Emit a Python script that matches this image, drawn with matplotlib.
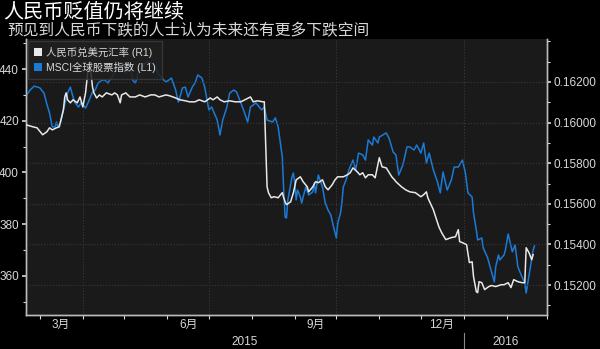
import matplotlib
matplotlib.use("Agg")
from matplotlib import pyplot as plt
import matplotlib.dates as mdates
from matplotlib.patches import Patch
import numpy as np
import pandas as pd

plt.rcParams['font.family'] = ['Liberation Sans', 'Noto Sans CJK SC', 'DejaVu Sans']

title = '人民币贬值仍将继续'
subtitle = '预见到人民币下跌的人士认为未来还有更多下跌空间'
label_cny = '人民币兑美元汇率 (R1)'
label_msci = 'MSCI全球股票指数 (L1)'

# MSCI all-country index (left axis)
msci_dates = [
    '2015-02-19', '2015-02-22', '2015-02-25', '2015-03-01', '2015-03-04', '2015-03-06', '2015-03-08',
    '2015-03-10', '2015-03-12', '2015-03-13', '2015-03-14', '2015-03-16', '2015-03-18', '2015-03-21',
    '2015-03-23', '2015-03-24', '2015-03-26', '2015-03-29', '2015-03-31', '2015-04-03', '2015-04-05',
    '2015-04-08', '2015-04-10', '2015-04-12', '2015-04-15', '2015-04-17', '2015-04-19', '2015-04-22',
    '2015-04-24', '2015-04-26', '2015-04-29', '2015-05-02', '2015-05-03', '2015-05-05', '2015-05-07',
    '2015-05-09', '2015-05-11', '2015-05-14', '2015-05-16', '2015-05-18', '2015-05-20', '2015-05-23',
    '2015-05-25', '2015-05-28', '2015-05-31', '2015-06-02', '2015-06-04', '2015-06-07', '2015-06-09',
    '2015-06-12', '2015-06-14', '2015-06-16', '2015-06-19', '2015-06-21', '2015-06-23', '2015-06-26',
    '2015-06-28', '2015-07-01', '2015-07-03', '2015-07-07', '2015-07-09', '2015-07-11', '2015-07-14',
    '2015-07-16', '2015-07-19', '2015-07-21', '2015-07-24', '2015-07-26', '2015-07-29', '2015-07-31',
    '2015-08-02', '2015-08-04', '2015-08-08', '2015-08-10', '2015-08-12', '2015-08-16', '2015-08-18',
    '2015-08-20', '2015-08-23', '2015-08-24', '2015-08-25', '2015-08-26', '2015-08-27', '2015-08-30',
    '2015-08-31', '2015-09-01', '2015-09-02', '2015-09-03', '2015-09-05', '2015-09-06', '2015-09-07',
    '2015-09-09', '2015-09-11', '2015-09-14', '2015-09-15', '2015-09-16', '2015-09-18', '2015-09-21',
    '2015-09-23', '2015-09-25', '2015-09-27', '2015-09-29', '2015-10-01', '2015-10-02', '2015-10-04',
    '2015-10-05', '2015-10-06', '2015-10-08', '2015-10-10', '2015-10-13', '2015-10-15', '2015-10-17',
    '2015-10-20', '2015-10-22', '2015-10-24', '2015-10-27', '2015-10-28', '2015-10-31', '2015-11-01',
    '2015-11-06', '2015-11-08', '2015-11-11', '2015-11-13', '2015-11-15', '2015-11-18', '2015-11-21',
    '2015-11-23', '2015-11-26', '2015-11-28', '2015-12-01', '2015-12-03', '2015-12-05', '2015-12-07',
    '2015-12-10', '2015-12-13', '2015-12-15', '2015-12-17', '2015-12-20', '2015-12-23', '2015-12-25',
    '2015-12-28', '2015-12-31', '2016-01-02', '2016-01-04', '2016-01-07', '2016-01-08', '2016-01-10',
    '2016-01-11', '2016-01-14', '2016-01-15', '2016-01-18', '2016-01-20', '2016-01-23', '2016-01-24',
    '2016-01-26', '2016-01-27', '2016-01-30', '2016-01-31', '2016-02-02', '2016-02-03', '2016-02-05',
    '2016-02-07', '2016-02-09', '2016-02-12', '2016-02-14', '2016-02-15', '2016-02-18', '2016-02-20',
    '2016-02-21',
]
msci_vals = [
    429.6, 431.9, 433.4, 432.7, 430.7, 426.5, 423.0,
    417.6, 417.6, 419.5, 417.6, 419.5, 424.2, 430.7,
    433.0, 431.1, 427.2, 425.3, 427.2, 424.9, 427.2,
    431.1, 431.9, 434.6, 435.7, 435.7, 434.6, 436.9,
    438.5, 440.4, 440.8, 438.5, 441.5, 442.3, 435.7,
    434.6, 438.5, 440.8, 442.3, 442.7, 442.3, 441.5,
    438.5, 436.5, 435.0, 435.7, 436.5, 431.9, 427.2,
    432.7, 433.0, 429.2, 433.0, 434.6, 437.7, 436.5,
    433.0, 424.2, 425.3, 420.3, 414.5, 420.3, 425.3,
    430.7, 431.9, 431.1, 426.9, 424.2, 419.5, 425.3,
    426.1, 426.9, 424.2, 425.3, 420.3, 419.5, 421.1,
    417.6, 406.0, 393.2, 382.8, 382.4, 389.4, 398.3,
    399.8, 395.9, 389.4, 393.2, 390.5, 388.2, 390.5,
    394.4, 391.3, 392.5, 395.9, 392.1, 399.0, 394.4,
    388.2, 385.5, 383.6, 378.9, 374.7, 380.5, 384.3,
    388.2, 394.4, 397.1, 401.0, 404.8, 401.0, 407.5,
    406.8, 404.8, 412.6, 410.6, 413.7, 411.4, 413.7,
    415.3, 413.3, 407.9, 406.8, 399.0, 402.9, 409.9,
    409.9, 408.7, 410.6, 407.5, 411.4, 403.7, 407.5,
    401.0, 396.3, 392.1, 400.2, 393.2, 397.1, 402.1,
    402.1, 404.8, 400.2, 392.1, 390.5, 384.3, 377.8,
    373.9, 374.7, 370.8, 367.3, 363.5, 357.7, 363.5,
    368.1, 366.2, 368.1, 370.0, 376.2, 373.9, 369.3,
    372.0, 363.5, 359.6, 357.3, 353.4, 363.5, 370.0,
    371.6,
]

# USD per CNY (right axis)
cny_dates = [
    '2015-02-19', '2015-02-24', '2015-02-27', '2015-03-03', '2015-03-06', '2015-03-08', '2015-03-10',
    '2015-03-13', '2015-03-15', '2015-03-18', '2015-03-19', '2015-03-20', '2015-03-21', '2015-03-23',
    '2015-03-25', '2015-03-28', '2015-03-30', '2015-04-01', '2015-04-03', '2015-04-05', '2015-04-06',
    '2015-04-08', '2015-04-09', '2015-04-11', '2015-04-13', '2015-04-15', '2015-04-18', '2015-04-22',
    '2015-04-24', '2015-04-26', '2015-04-28', '2015-04-29', '2015-05-02', '2015-05-05', '2015-05-09',
    '2015-05-12', '2015-05-16', '2015-05-20', '2015-05-23', '2015-05-26', '2015-05-31', '2015-06-03',
    '2015-06-07', '2015-06-10', '2015-06-14', '2015-06-17', '2015-06-21', '2015-06-24', '2015-06-28',
    '2015-07-02', '2015-07-04', '2015-07-07', '2015-07-09', '2015-07-12', '2015-07-16', '2015-07-20',
    '2015-07-24', '2015-07-27', '2015-07-31', '2015-08-02', '2015-08-05', '2015-08-09', '2015-08-10',
    '2015-08-12', '2015-08-13', '2015-08-15', '2015-08-17', '2015-08-20', '2015-08-23', '2015-08-24',
    '2015-08-25', '2015-08-26', '2015-08-29', '2015-08-31', '2015-09-02', '2015-09-05', '2015-09-07',
    '2015-09-10', '2015-09-11', '2015-09-14', '2015-09-16', '2015-09-18', '2015-09-21', '2015-09-23',
    '2015-09-25', '2015-09-28', '2015-09-30', '2015-10-02', '2015-10-06', '2015-10-09', '2015-10-11',
    '2015-10-13', '2015-10-16', '2015-10-18', '2015-10-20', '2015-10-22', '2015-10-24', '2015-10-27',
    '2015-10-29', '2015-11-01', '2015-11-03', '2015-11-06', '2015-11-10', '2015-11-12', '2015-11-13',
    '2015-11-17', '2015-11-20', '2015-11-23', '2015-11-27', '2015-12-01', '2015-12-03', '2015-12-05',
    '2015-12-06', '2015-12-10', '2015-12-14', '2015-12-16', '2015-12-19', '2015-12-23', '2015-12-26',
    '2015-12-28', '2015-12-29', '2015-12-31', '2016-01-03', '2016-01-05', '2016-01-07', '2016-01-08',
    '2016-01-10', '2016-01-11', '2016-01-12', '2016-01-14', '2016-01-16', '2016-01-19', '2016-01-21',
    '2016-01-24', '2016-01-28', '2016-01-30', '2016-02-02', '2016-02-04', '2016-02-06', '2016-02-09',
    '2016-02-12', '2016-02-14', '2016-02-15', '2016-02-17', '2016-02-19', '2016-02-20',
]
cny_vals = [
    0.15989, 0.15979, 0.15974, 0.15940, 0.15954, 0.15974, 0.15964,
    0.15974, 0.15979, 0.16062, 0.16126, 0.16146, 0.16112, 0.16097,
    0.16112, 0.16097, 0.16126, 0.16077, 0.16146, 0.16274, 0.16298,
    0.16175, 0.16146, 0.16121, 0.16136, 0.16126, 0.16146, 0.16136,
    0.16146, 0.16136, 0.16097, 0.16136, 0.16146, 0.16126, 0.16126,
    0.16136, 0.16126, 0.16136, 0.16136, 0.16126, 0.16136, 0.16131,
    0.16121, 0.16112, 0.16107, 0.16102, 0.16102, 0.16112, 0.16102,
    0.16121, 0.16112, 0.16126, 0.16112, 0.16102, 0.16107, 0.16102,
    0.16102, 0.16112, 0.16126, 0.16102, 0.16107, 0.16102, 0.16102,
    0.15684, 0.15655, 0.15630, 0.15635, 0.15630, 0.15655, 0.15630,
    0.15610, 0.15596, 0.15610, 0.15655, 0.15718, 0.15733, 0.15709,
    0.15684, 0.15659, 0.15684, 0.15709, 0.15704, 0.15718, 0.15684,
    0.15669, 0.15694, 0.15718, 0.15733, 0.15733, 0.15743, 0.15753,
    0.15777, 0.15758, 0.15743, 0.15753, 0.15728, 0.15743, 0.15743,
    0.15728, 0.15827, 0.15782, 0.15777, 0.15733, 0.15718, 0.15709,
    0.15684, 0.15669, 0.15659, 0.15655, 0.15635, 0.15645, 0.15659,
    0.15630, 0.15571, 0.15487, 0.15458, 0.15424, 0.15434, 0.15438,
    0.15473, 0.15414, 0.15409, 0.15399, 0.15311, 0.15315, 0.15242,
    0.15168, 0.15163, 0.15217, 0.15212, 0.15178, 0.15193, 0.15198,
    0.15193, 0.15202, 0.15202, 0.15212, 0.15188, 0.15227, 0.15217,
    0.15212, 0.15212, 0.15384, 0.15360, 0.15325, 0.15350,
]

msci_x = pd.to_datetime(msci_dates)
cny_x = pd.to_datetime(cny_dates)

bg = '#000000'
panel = '#1a1a1a'
blue = '#1b7ad6'
white = '#e8e8e8'
txt = '#d8d8d8'
grid_c = '#3a3a3a'

fig = plt.figure(figsize=(6, 3.49), dpi=100, facecolor=bg)
ax = fig.add_axes([0.0433, 0.0974, 0.8683, 0.7908])
ax.set_facecolor(panel)
ax2 = ax.twinx()

ax.plot(msci_x, msci_vals, color=blue, lw=1.1, zorder=3)
ax2.plot(cny_x, cny_vals, color=white, lw=1.1, zorder=3)

ax.set_xlim(pd.Timestamp('2015-02-19'), pd.Timestamp('2016-03-01'))
ax.set_ylim(344.9, 451.6)
ax2.set_ylim(0.15053, 0.16411)

# left axis
ax.set_yticks([360, 380, 400, 420, 440])
ax.set_yticks([350, 370, 390, 410, 430, 450], minor=True)
ax.tick_params(axis='y', which='major', colors=txt, labelsize=8.5, length=3, width=1.2, pad=2)
ax.tick_params(axis='y', which='minor', colors=txt, length=2, width=0.8)

# right axis
ax2.set_yticks([0.152, 0.154, 0.156, 0.158, 0.160, 0.162])
ax2.set_yticks([0.151, 0.153, 0.155, 0.157, 0.159, 0.161, 0.163, 0.164], minor=True)
ax2.yaxis.set_major_formatter(plt.FormatStrFormatter('%.5f'))
ax2.tick_params(axis='y', which='major', colors=txt, labelsize=8.5, length=3, width=1.2, pad=2)
ax2.tick_params(axis='y', which='minor', colors=txt, length=2, width=0.8)
ax2.grid(True, axis='y', color=grid_c, lw=0.8, ls=':')

# x axis: month ticks, labels centred in month
ax.xaxis.set_minor_locator(mdates.MonthLocator())
ax.xaxis.set_minor_formatter(plt.NullFormatter())
label_days = pd.to_datetime(['2015-03-16', '2015-06-16', '2015-09-16', '2015-12-16'])
ax.set_xticks(label_days)
ax.set_xticklabels(['3月', '6月', '9月', '12月'])
ax.tick_params(axis='x', which='major', length=0, colors=txt, labelsize=8.5, pad=3)
ax.tick_params(axis='x', which='minor', length=3, width=0.8, colors=txt)
for q in pd.to_datetime(['2015-04-01', '2015-07-01', '2015-10-01', '2016-01-01']):
    ax.axvline(q, color=grid_c, lw=0.8, ls=':', zorder=1)

for a in (ax, ax2):
    a.spines['top'].set_visible(False)
    for s in ('left', 'right', 'bottom'):
        a.spines[s].set_color('#bbbbbb')
        a.spines[s].set_linewidth(1)

# year labels below month labels
x0 = mdates.date2num(pd.Timestamp('2015-02-19'))
xj = mdates.date2num(pd.Timestamp('2016-01-01'))
x1 = mdates.date2num(pd.Timestamp('2016-03-01'))
trans = ax.get_xaxis_transform()
ax.text((x0 + xj) / 2, -0.098, '2015', transform=trans, ha='center', va='center',
        color=txt, fontsize=8.5)
ax.text((xj + x1) / 2, -0.098, '2016', transform=trans, ha='center', va='center',
        color=txt, fontsize=8.5)
ax.plot([xj, xj], [-0.065, -0.125], transform=trans, color='#888888', lw=0.8, clip_on=False)

# legend
handles = [Patch(facecolor=white, edgecolor='none'), Patch(facecolor=blue, edgecolor='none')]
leg = ax2.legend(handles, [label_cny, label_msci], loc='upper left', bbox_to_anchor=(0.0, 1.0),
                 fontsize=7.5, frameon=True, fancybox=False, borderpad=0.6, labelspacing=0.4,
                 handlelength=0.8, handleheight=0.8, handletextpad=0.4, borderaxespad=0.15)
leg.get_frame().set_facecolor('#1f1f1f')
leg.get_frame().set_edgecolor('#3a3a3a')
leg.get_frame().set_alpha(0.85)
for t in leg.get_texts():
    t.set_color(txt)

fig.text(0.005, 0.963, title, color='white', fontsize=14.5, ha='left', va='center')
fig.text(0.012, 0.913, subtitle, color=txt, fontsize=11.3, ha='left', va='center')

fig.savefig('out.png', dpi=100, facecolor=bg)
